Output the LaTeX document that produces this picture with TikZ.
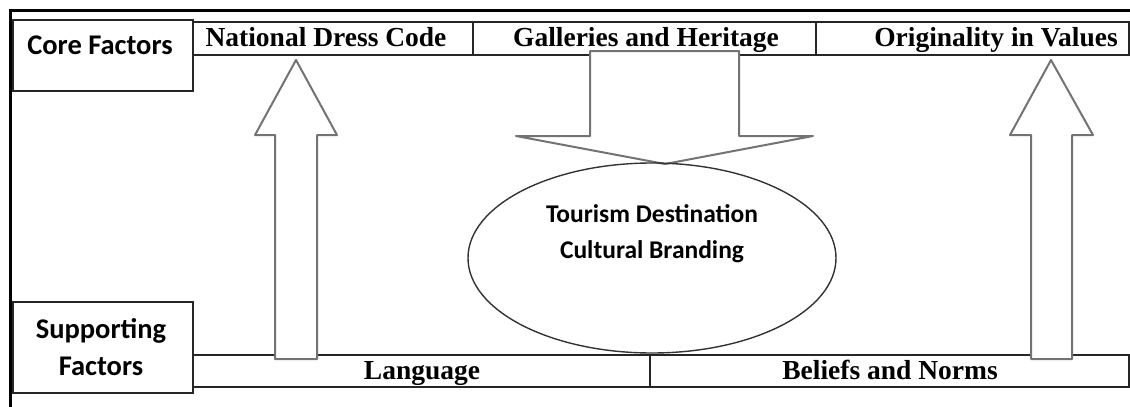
\documentclass[tikz,border=0pt]{standalone}
\usepackage{fontspec}
\setmainfont{Liberation Serif}
\newfontfamily\calibri{Carlito}
\usetikzlibrary{shapes.geometric}

\tikzset{
  rowbox/.style={draw=black!85, line width=1.4pt},
  rowtext/.style={font=\bfseries\fontsize{27.5}{33}\selectfont, inner sep=0pt, anchor=base},
  sidetext/.style={font=\calibri\bfseries\fontsize{28.5}{37}\selectfont, inner sep=0pt, anchor=base},
  brandtext/.style={font=\calibri\bfseries\fontsize{25.5}{36}\selectfont, inner sep=0pt, anchor=base},
  blockarrow/.style={draw=black!55, line width=2pt, fill=white, line join=round},
}

\begin{document}
\begin{tikzpicture}[x=1pt, y=-1pt]
    \useasboundingbox (0,0) rectangle (1130,407);
    % Rahmen
    \draw[line width=3pt] (1130,10) -- (10,10) -- (10,407);

    % Core factors
    \draw[rowbox] (13,20) rectangle (193,91);
    \node[sidetext] (core) at (100,54) {Core Factors};
    \draw[rowbox] (193,22) rectangle (473,55);
    \draw[rowbox] (473,22) rectangle (816,55);
    \draw[rowbox] (816,22) rectangle (1129,55);

    % Supporting factors
    \draw[rowbox] (13,302) rectangle (193,393);
    \node[sidetext] (support) at (101,338) {Supporting};
    \node[sidetext] (factors) at (101,375) {Factors};
    \draw[rowbox] (193,355) rectangle (650,387);
    \draw[rowbox] (650,355) rectangle (1129,387);

    % Block arrows
    \draw[blockarrow] (296,60) -- (337,135) -- (317,135) -- (317,359) -- (275,359) -- (275,135) -- (255,135) -- cycle;
    \draw[blockarrow] (1051,60) -- (1093,135) -- (1072,135) -- (1072,359) -- (1031,359) -- (1031,135) -- (1010,135) -- cycle;
    \draw[blockarrow] (590,51) -- (739,51) -- (739,136) -- (813,136) -- (665,164) -- (516,136) -- (590,136) -- cycle;

    % Row texts
    \node[rowtext] (dress) at (326,46) {National Dress Code};
    \node[rowtext] (gallery) at (646,46) {Galleries and Heritage};
    \node[rowtext] (values) at (996,46) {Originality in Values};
    \node[rowtext] (lang) at (422,379) {Language};
    \node[rowtext] (belief) at (890,379) {Beliefs and Norms};

    % Branding
    \node[draw=black!80, line width=1.4pt, ellipse, minimum width=368, minimum height=190, inner sep=0pt] (brand) at (652,258) {};
    \node[brandtext] (tourism) at (652,222) {Tourism Destination};
    \node[brandtext] (cultural) at (652,258) {Cultural Branding};
\end{tikzpicture}
\end{document}
